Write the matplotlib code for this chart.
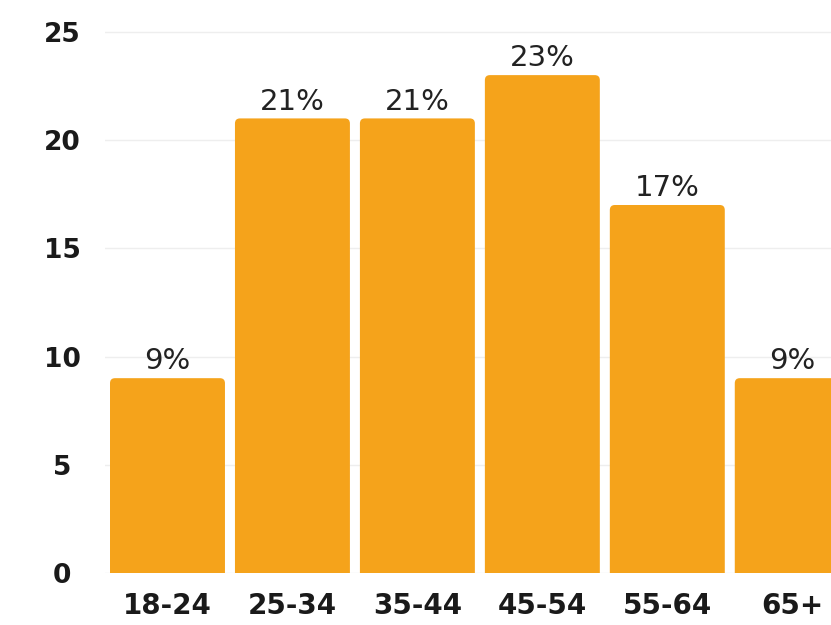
import matplotlib.pyplot as plt
from matplotlib.patches import FancyBboxPatch

age_groups = ['18-24', '25-34', '35-44', '45-54', '55-64', '65+']
shares = [9, 21, 21, 23, 17, 9]
bar_labels = ['9%', '21%', '21%', '23%', '17%', '9%']

bar_color = '#F5A31B'

fig = plt.figure(figsize=(8.31, 6.25), dpi=100)
ax = fig.add_axes([105 / 831, 52 / 625, 1 - 105 / 831, (573 - 21) / 625])

bars = ax.bar(range(len(age_groups)), shares, width=0.92, color=bar_color, zorder=2)

# swap plain bars for ones with slightly rounded tops
for b in bars:
    x, w, h = b.get_x(), b.get_width(), b.get_height()
    b.set_visible(False)
    p = FancyBboxPatch((x, -1), w, h + 1,
                       boxstyle='round,pad=0,rounding_size=0.04',
                       mutation_aspect=5.8, facecolor=bar_color,
                       edgecolor='none', zorder=2)
    ax.add_patch(p)

for i, (v, lab) in enumerate(zip(shares, bar_labels)):
    ax.annotate(lab, (i, v), xytext=(0, 2), textcoords='offset points',
                ha='center', va='bottom', fontsize=21, color='#222222',
                family='DejaVu Sans')

ax.set_xlim(-0.5, 5.31)
ax.set_ylim(0, 25.5)
ax.set_yticks([0, 5, 10, 15, 20, 25])
ax.set_xticks(range(len(age_groups)))
ax.set_xticklabels(age_groups)

for t in ax.get_yticklabels():
    t.set_ha('center')
    t.set_fontweight('bold')
    t.set_fontsize(19)
    t.set_family('DejaVu Sans')
for t in ax.get_xticklabels():
    t.set_fontweight('bold')
    t.set_fontsize(20)
    t.set_family('DejaVu Sans')

ax.tick_params(axis='y', length=0, pad=31, colors='#1a1a1a')
ax.tick_params(axis='x', length=0, pad=14, colors='#1a1a1a')

ax.grid(axis='y', color='#eeeeee', lw=1, zorder=0)
for s in ax.spines.values():
    s.set_visible(False)

fig.savefig('out.png', dpi=100)
